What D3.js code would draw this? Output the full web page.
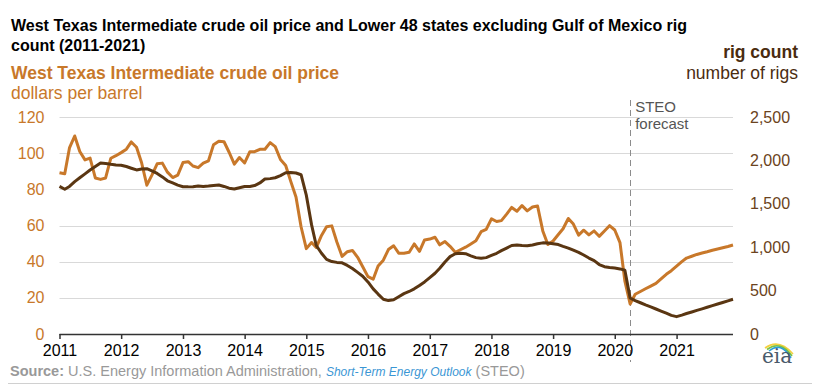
<!DOCTYPE html>
<html>
<head>
<meta charset="utf-8">
<script src="https://cdn.jsdelivr.net/npm/d3@7"></script>
<style>
  body { margin: 0; background: #fff; }
  svg text { font-family: "Liberation Sans", Arial, sans-serif; }
</style>
</head>
<body>
<div id="chart"></div>
<script>
// monthly values, Jan 2011 - Dec 2021 (May 2020 onward is the STEO forecast)
var startYear = 2011;
var wtiPrice = [
  89.2, 88.6, 102.9, 109.5, 100.9, 96.3, 97.3, 86.3, 85.5, 86.3, 97.2, 98.6,
  100.3, 102.2, 106.2, 103.3, 94.7, 82.3, 87.9, 94.1, 94.5, 89.5, 86.5, 87.9,
  94.8, 95.3, 92.9, 92.0, 94.5, 95.8, 104.7, 106.6, 106.3, 100.5, 93.9, 97.6,
  94.6, 100.8, 100.8, 102.1, 102.2, 105.8, 103.6, 96.5, 93.2, 84.4, 75.8, 59.3,
  47.2, 50.6, 47.8, 54.5, 59.3, 59.8, 50.9, 42.9, 45.5, 46.2, 42.4, 37.2,
  31.7, 30.3, 37.6, 40.8, 46.7, 48.8, 44.7, 44.7, 45.2, 49.8, 45.7, 52.0,
  52.5, 53.5, 49.3, 51.1, 48.5, 45.2, 46.6, 48.0, 49.8, 51.6, 56.6, 57.9,
  63.7, 62.2, 62.7, 66.3, 70.0, 67.9, 71.0, 68.1, 70.2, 70.8, 57.0, 49.5,
  51.4, 55.0, 58.2, 63.9, 60.8, 54.7, 57.4, 54.8, 57.0, 54.0, 57.0, 59.9,
  57.5, 50.5, 29.2, 16.6, 22.0, 23.5, 25.0, 26.5, 28.0, 30.5, 33.0, 35.0,
  37.5, 40.0, 42.0, 43.0, 44.0, 44.8, 45.5, 46.3, 47.0, 47.7, 48.4, 49.2
];
var rigCount = [
  1700, 1668, 1700, 1755, 1800, 1845, 1890, 1930, 1970, 1965, 1955, 1948,
  1945, 1930, 1910, 1890, 1900, 1905, 1880, 1850, 1810, 1765, 1740, 1715,
  1697, 1695, 1697, 1705, 1700, 1705, 1712, 1717, 1700, 1680, 1670, 1685,
  1700, 1700, 1710, 1740, 1785, 1790, 1800, 1825, 1858, 1860, 1855, 1835,
  1600, 1260, 1020, 930, 860, 835, 825, 820, 790, 755, 710, 665,
  600, 520, 460, 400, 385, 395, 430, 465, 490, 520, 560, 600,
  650, 700, 757, 830, 891, 925, 930, 925, 900, 880, 872, 880,
  905, 930, 960, 990, 1020, 1025, 1020, 1017, 1025, 1040, 1050, 1048,
  1040, 1030, 1010, 990, 965, 940, 910, 875, 845, 800, 775, 765,
  760, 750, 735, 415, 385, 360, 335, 312, 288, 264, 240, 215,
  200, 218, 236, 254, 272, 290, 308, 327, 345, 363, 382, 400
];
var yearTicks = [2011, 2012, 2013, 2014, 2015, 2016, 2017, 2018, 2019, 2020, 2021];
var priceTicks = [0, 20, 40, 60, 80, 100, 120];
var rigTicks = [0, 500, 1000, 1500, 2000, 2500];
var forecastStart = new Date(2020, 3, 1);

var orange = "#c8782a";
var brown = "#5a3612";

var width = 824, height = 391;
var svg = d3.select("#chart").append("svg")
  .attr("width", width)
  .attr("height", height);

var plot = {left: 59.5, right: 733, top: 117, bottom: 334};

var x = d3.scaleTime()
  .domain([new Date(startYear, 0, 1), new Date(2021, 11, 1)])
  .range([plot.left, plot.right]);
var yPrice = d3.scaleLinear().domain([0, 120]).range([plot.bottom, plot.top]);
var yRig = d3.scaleLinear().domain([0, 2500]).range([plot.bottom, plot.top]);

function monthDate(i) { return new Date(startYear, i, 1); }

// gridlines
svg.append("g")
  .attr("class", "grid")
  .selectAll("line")
  .data(priceTicks.slice(1))
  .enter().append("line")
    .attr("x1", plot.left).attr("x2", plot.right)
    .attr("y1", function(d) { return Math.round(yPrice(d)) + 0.5; })
    .attr("y2", function(d) { return Math.round(yPrice(d)) + 0.5; })
    .attr("stroke", "#d9d9d9")
    .attr("stroke-width", 1.2);

// left axis (price)
var leftAxis = svg.append("g")
  .attr("transform", "translate(" + (plot.left - 15) + ",0)")
  .call(d3.axisLeft(yPrice).tickValues(priceTicks).tickSize(0).tickPadding(0));
leftAxis.select(".domain").remove();
leftAxis.selectAll("text")
  .attr("fill", orange)
  .style("font-size", "16px")
  .style("font-family", "'Liberation Sans', Arial, sans-serif");

// right axis (rigs)
var rightAxis = svg.append("g")
  .attr("transform", "translate(750,0)")
  .call(d3.axisRight(yRig).tickValues(rigTicks).tickSize(0).tickPadding(0).tickFormat(d3.format(",")));
rightAxis.select(".domain").remove();
rightAxis.selectAll("text")
  .attr("fill", "#6b4320")
  .style("font-size", "16px")
  .style("font-family", "'Liberation Sans', Arial, sans-serif");

// forecast divider
svg.append("line")
  .attr("x1", Math.round(x(forecastStart)) + 0.5)
  .attr("x2", Math.round(x(forecastStart)) + 0.5)
  .attr("y1", 100)
  .attr("y2", 362)
  .attr("stroke", "#8c8c8c")
  .attr("stroke-width", 1)
  .attr("stroke-dasharray", "6,4");

svg.append("text")
  .attr("x", x(forecastStart) + 5)
  .attr("y", 111.5)
  .attr("fill", "#555")
  .style("font-size", "15px")
  .text("STEO");
svg.append("text")
  .attr("x", x(forecastStart) + 5)
  .attr("y", 129)
  .attr("fill", "#555")
  .style("font-size", "15px")
  .text("forecast");

// bottom axis
var xAxis = svg.append("g")
  .attr("transform", "translate(0," + plot.bottom + ")")
  .call(d3.axisBottom(x)
    .tickValues(yearTicks.map(function(y) { return new Date(y, 0, 1); }))
    .tickSize(5)
    .tickPadding(6)
    .tickFormat(d3.timeFormat("%Y")));
xAxis.select(".domain")
  .attr("d", "M" + plot.left + ",0.5H" + plot.right)
  .attr("stroke", "#333")
  .attr("stroke-width", 1.5);
xAxis.selectAll(".tick line").attr("stroke", "#333").attr("stroke-width", 1.5);
xAxis.selectAll("text")
  .attr("fill", "#000")
  .style("font-size", "16px")
  .style("font-family", "'Liberation Sans', Arial, sans-serif");

// lines
var priceLine = d3.line()
  .x(function(d, i) { return x(monthDate(i)); })
  .y(function(d) { return yPrice(d); });
var rigLine = d3.line()
  .x(function(d, i) { return x(monthDate(i)); })
  .y(function(d) { return yRig(d); });

svg.append("path")
  .datum(wtiPrice)
  .attr("fill", "none")
  .attr("stroke", orange)
  .attr("stroke-width", 3)
  .attr("stroke-linejoin", "round")
  .attr("d", priceLine);

svg.append("path")
  .datum(rigCount)
  .attr("fill", "none")
  .attr("stroke", brown)
  .attr("stroke-width", 3)
  .attr("stroke-linejoin", "round")
  .attr("d", rigLine);

// titles
var title = svg.append("text")
  .attr("x", 11)
  .attr("y", 31)
  .attr("fill", "#000")
  .style("font-size", "16px")
  .style("font-weight", "bold");
title.append("tspan").attr("x", 11).text("West Texas Intermediate crude oil price and Lower 48 states excluding Gulf of Mexico rig");
title.append("tspan").attr("x", 11).attr("dy", 20).text("count (2011-2021)");

svg.append("text")
  .attr("x", 11).attr("y", 79)
  .attr("fill", orange)
  .style("font-size", "17.5px")
  .style("font-weight", "bold")
  .text("West Texas Intermediate crude oil price");
svg.append("text")
  .attr("x", 11).attr("y", 98.5)
  .attr("fill", orange)
  .style("font-size", "17.5px")
  .text("dollars per barrel");

svg.append("text")
  .attr("x", 798).attr("y", 58)
  .attr("text-anchor", "end")
  .attr("fill", "#4a2c10")
  .style("font-size", "17.5px")
  .style("font-weight", "bold")
  .text("rig count");
svg.append("text")
  .attr("x", 798).attr("y", 78.5)
  .attr("text-anchor", "end")
  .attr("fill", "#4a2c10")
  .style("font-size", "17.5px")
  .text("number of rigs");

// source line
var source = svg.append("text")
  .attr("x", 10).attr("y", 376)
  .attr("fill", "#999")
  .style("font-size", "14.5px");
source.append("tspan").style("font-weight", "bold").text("Source:");
source.append("tspan").text(" U.S. Energy Information Administration, ");
source.append("tspan")
  .attr("fill", "#3a96d4")
  .style("font-size", "12px")
  .style("font-style", "italic")
  .text("Short-Term Energy Outlook");
source.append("tspan").text(" (STEO)");

svg.append("line")
  .attr("x1", 8).attr("x2", 812)
  .attr("y1", 383.5).attr("y2", 383.5)
  .attr("stroke", "#d0d0d0")
  .attr("stroke-width", 1);

// eia logo
var logo = svg.append("g").attr("transform", "translate(777,358)");
var arcColors = ["#f4d03f", "#7dc242", "#2a9fd8"];
arcColors.forEach(function(c, i) {
  logo.append("path")
    .attr("d", "M" + (-12 + i * 2) + "," + (-10 + i * 1.5) + " Q" + (2 + i) + "," + (-20 + i * 1.5) + " " + (16 - i) + "," + (-4 + i * 2))
    .attr("fill", "none")
    .attr("stroke", c)
    .attr("stroke-width", 1.6);
});
logo.append("text")
  .attr("x", 0).attr("y", 5)
  .attr("text-anchor", "middle")
  .attr("fill", "#4a5a6a")
  .style("font-family", "'DejaVu Serif', 'Liberation Serif', serif")
  .style("font-size", "20px")
  .text("eia");
</script>
</body>
</html>
